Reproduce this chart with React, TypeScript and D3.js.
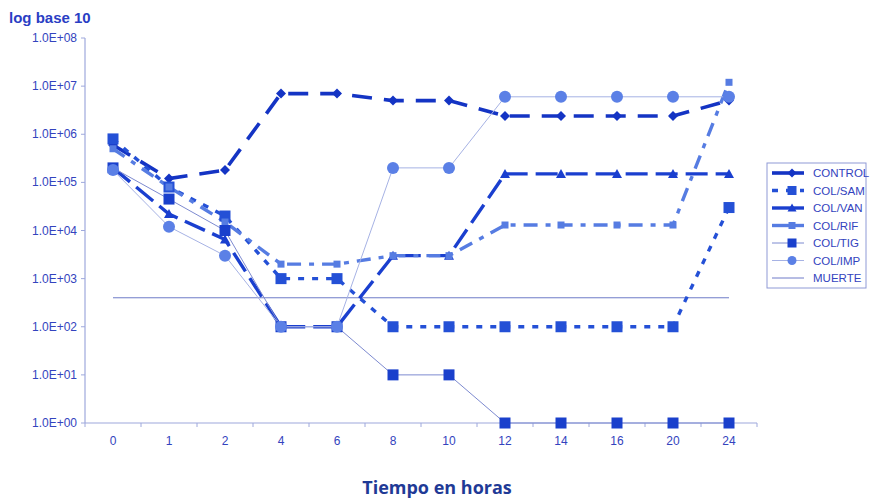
import React from 'react';
import * as d3 from 'd3';

// hours on the x axis (categorical)
const hours = ['0', '1', '2', '4', '6', '8', '10', '12', '14', '16', '20', '24'];

const control = [6e5, 1.2e5, 1.8e5, 7e6, 7e6, 5e6, 5e6, 2.4e6, 2.4e6, 2.4e6, 2.4e6, 5e6];
const colSam = [8e5, 8e4, 2e4, 1e3, 1e3, 1e2, 1e2, 1e2, 1e2, 1e2, 1e2, 3e4];
const colVan = [2e5, 2.2e4, 6.5e3, 1e2, 1e2, 3e3, 3e3, 1.5e5, 1.5e5, 1.5e5, 1.5e5, 1.5e5];
const colRif = [5e5, 8e4, 1.5e4, 2e3, 2e3, 3e3, 3e3, 1.3e4, 1.3e4, 1.3e4, 1.3e4, 1.2e7];
const colTig = [2e5, 4.5e4, 1e4, 1e2, 1e2, 1e1, 1e1, 1, 1, 1, 1, 1];
const colImp = [1.8e5, 1.2e4, 3e3, 1e2, 1e2, 2e5, 2e5, 6e6, 6e6, 6e6, 6e6, 6e6];
const muerte = 4e2;

const yTicks = [1, 1e1, 1e2, 1e3, 1e4, 1e5, 1e6, 1e7, 1e8];
const yTickLabels = ['1.0E+00', '1.0E+01', '1.0E+02', '1.0E+03', '1.0E+04', '1.0E+05', '1.0E+06', '1.0E+07', '1.0E+08'];

const series = [
  { name: 'CONTROL', values: control, color: '#1434c4', width: 3.6, dash: '20,12', marker: 'diamond', size: 10 },
  { name: 'COL/SAM', values: colSam, color: '#2450d6', width: 3.4, dash: '6,8', marker: 'square', size: 11 },
  { name: 'COL/VAN', values: colVan, color: '#1a3fcf', width: 3.4, dash: '22,8', marker: 'triangle', size: 10 },
  { name: 'COL/RIF', values: colRif, color: '#567ce2', width: 3.4, dash: '14,8,5,8', marker: 'square', size: 7 },
  { name: 'COL/TIG', values: colTig, color: '#1a40cc', width: 1, dash: null, marker: 'square', size: 11, lineColor: '#7d8ad0' },
  { name: 'COL/IMP', values: colImp, color: '#5b80e6', width: 1, dash: null, marker: 'circle', size: 12, lineColor: '#a6b2e4' },
];

const W = 873;
const H = 498;
const left = 85;
const right = 757;
const top = 38;
const bottom = 423;

const Marker = ({ type, x, y, size, color }) => {
  const s = size / 2;
  if (type === 'circle') return <circle cx={x} cy={y} r={s} fill={color} />;
  if (type === 'square') return <rect x={x - s} y={y - s} width={size} height={size} fill={color} />;
  if (type === 'diamond')
    return <path d={`M${x},${y - s}L${x + s},${y}L${x},${y + s}L${x - s},${y}Z`} fill={color} />;
  return <path d={`M${x},${y - s}L${x + s},${y + s * 0.8}L${x - s},${y + s * 0.8}Z`} fill={color} />;
};

export default function App() {
  const x = d3.scaleBand().domain(hours).range([left, right]);
  const y = d3.scaleLog().domain([1, 1e8]).range([bottom, top]);
  const cx = (h) => x(h) + x.bandwidth() / 2;

  const line = d3
    .line()
    .x((d, i) => cx(hours[i]))
    .y((d) => y(d));

  const axisColor = '#9ea8dc';
  const textColor = '#3343be';
  const font = 'Liberation Sans, Arial, sans-serif';

  const legendX = 767;
  const legendY = 163;
  const legendRow = 17.5;
  const legendItems = [...series, { name: 'MUERTE', color: '#6e7bc8', width: 1, dash: null, marker: null, size: 0, lineColor: '#6e7bc8' }];

  return (
    <svg width={W} height={H} style={{ position: 'absolute', left: 0, top: 0 }} fontFamily={font}>
      <rect width={W} height={H} fill="#ffffff" />
      <text x={9} y={23} fontSize={15} fontWeight="bold" fill="#2a3ec4">log base 10</text>

      {/* y axis */}
      <line x1={left} x2={left} y1={top} y2={bottom} stroke={axisColor} strokeWidth={1.2} />
      {yTicks.map((t, i) => (
        <g key={t}>
          <line x1={left - 4} x2={left} y1={y(t)} y2={y(t)} stroke={axisColor} />
          <text x={77} y={y(t) + 4} fontSize={12} fill={textColor} textAnchor="end">{yTickLabels[i]}</text>
        </g>
      ))}

      {/* x axis */}
      <line x1={left} x2={right} y1={bottom} y2={bottom} stroke={axisColor} strokeWidth={1.2} />
      {[...hours.map((h) => x(h)), right].map((v, i) => (
        <line key={i} x1={v} x2={v} y1={bottom} y2={bottom + 4} stroke={axisColor} />
      ))}
      {hours.map((h) => (
        <text key={h} x={cx(h)} y={445} fontSize={12} fill={textColor} textAnchor="middle">{h}</text>
      ))}

      {/* death threshold */}
      <line x1={cx(hours[0])} x2={cx(hours[hours.length - 1])} y1={y(muerte)} y2={y(muerte)} stroke="#6e7bc8" strokeWidth={1} />

      {series.map((s) => (
        <path key={s.name} d={line(s.values)} fill="none" stroke={s.lineColor || s.color}
          strokeWidth={s.width} strokeDasharray={s.dash || undefined} />
      ))}
      {series.map((s) => (
        <g key={s.name + 'm'}>
          {s.values.map((v, i) => (
            <Marker key={i} type={s.marker} x={cx(hours[i])} y={y(v)} size={s.size} color={s.color} />
          ))}
        </g>
      ))}

      {/* legend */}
      <rect x={legendX} y={legendY} width={99} height={125} fill="#ffffff" stroke="#8f9ad6" strokeWidth={1} />
      {legendItems.map((s, i) => {
        const ly = legendY + 10 + i * legendRow;
        return (
          <g key={s.name}>
            <line x1={legendX + 5} x2={legendX + 37} y1={ly} y2={ly} stroke={s.lineColor || s.color}
              strokeWidth={s.width} strokeDasharray={s.dash ? (s.name === 'COL/SAM' ? '6,8' : undefined) : undefined} />
            {s.marker && <Marker type={s.marker} x={legendX + 25} y={ly} size={Math.min(s.size, 9)} color={s.color} />}
            <text x={legendX + 46} y={ly + 4} fontSize={11.5} fill={textColor}>{s.name}</text>
          </g>
        );
      })}

      <text x={437} y={494} fontSize={18} fontWeight="bold" fill="#1f3a96" textAnchor="middle"
        fontFamily="Open Sans, sans-serif">Tiempo en horas</text>
    </svg>
  );
}
